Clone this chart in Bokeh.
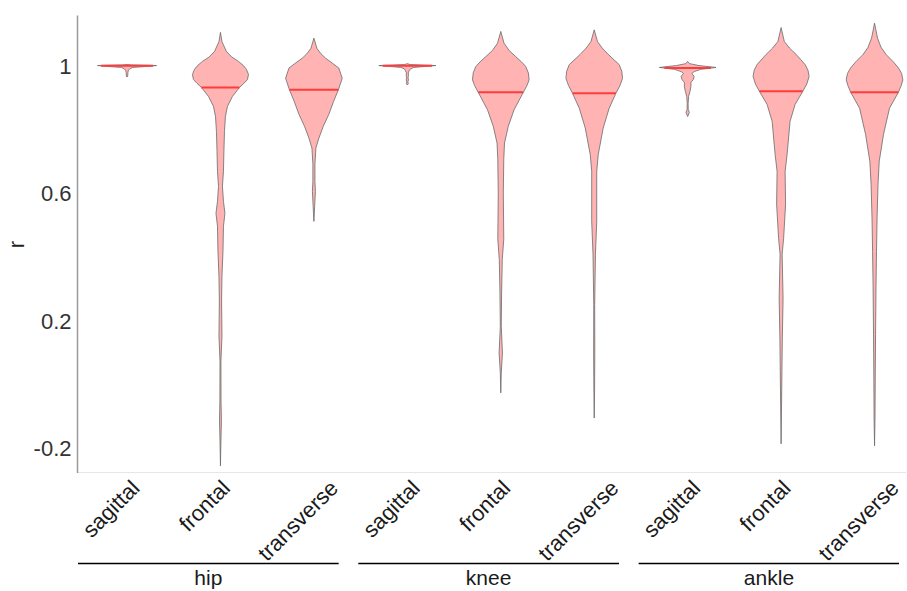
import numpy as np
from bokeh.plotting import figure
from bokeh.layouts import column
from bokeh.models import FixedTicker, Range1d
from bokeh.core.properties import value
from bokeh.embed import file_html
from bokeh.resources import INLINE

# ---------------- data ----------------
joints = ["hip", "knee", "ankle"]
planes = ["sagittal", "frontal", "transverse"]
y_ticks = [-0.2, 0.2, 0.6, 1.0]
y_tick_labels = ["-0.2", "0.2", "0.6", "1"]

# violin outlines: r value and half-width (in category units)
hip_sagittal_r = [1.006, 1.005, 1.003, 1.000, 0.997, 0.993, 0.988, 0.982, 0.976, 0.970, 0.967]
hip_sagittal_w = [0.0, 0.05, 0.316, 0.20, 0.06, 0.03, 0.015, 0.010, 0.008, 0.008, 0.0]

hip_frontal_r = [1.107, 1.078, 1.047, 1.030, 1.016, 1.003, 0.991, 0.975, 0.959, 0.947, 0.934,
                 0.906, 0.875, 0.843, 0.796, 0.734, 0.671, 0.624, 0.577, 0.539, 0.499, 0.420,
                 0.342, 0.264, 0.154, 0.076, -0.050, -0.112, -0.175, -0.253]
hip_frontal_w = [0.0, 0.016, 0.064, 0.120, 0.193, 0.245, 0.278, 0.300, 0.289, 0.250, 0.203,
                 0.128, 0.075, 0.053, 0.043, 0.037, 0.032, 0.021, 0.032, 0.048, 0.032, 0.027,
                 0.016, 0.012, 0.016, 0.005, 0.006, 0.010, 0.005, 0.0]

hip_transverse_r = [1.089, 1.057, 1.040, 1.026, 1.010, 0.995, 0.963, 0.927, 0.890, 0.850, 0.812,
                    0.775, 0.744, 0.693, 0.640, 0.608, 0.561, 0.514]
hip_transverse_w = [0.0, 0.032, 0.075, 0.125, 0.200, 0.267, 0.303, 0.262, 0.210, 0.160, 0.100,
                    0.053, 0.021, 0.011, 0.011, 0.016, 0.008, 0.0]

knee_sagittal_r = [1.009, 1.006, 1.004, 1.003, 1.000, 0.997, 0.993, 0.987, 0.980, 0.972, 0.965,
                   0.958, 0.952, 0.946, 0.942]
knee_sagittal_w = [0.0, 0.03, 0.20, 0.305, 0.18, 0.07, 0.035, 0.020, 0.010, 0.012, 0.008,
                   0.012, 0.006, 0.010, 0.0]

knee_frontal_r = [1.110, 1.073, 1.050, 1.031, 1.015, 1.000, 0.980, 0.958, 0.940, 0.919, 0.864,
                  0.812, 0.760, 0.709, 0.603, 0.458, 0.395, 0.289, 0.185, 0.101, 0.038, -0.024]
knee_frontal_w = [0.0, 0.035, 0.090, 0.160, 0.220, 0.267, 0.295, 0.303, 0.280, 0.241, 0.142,
                  0.080, 0.040, 0.032, 0.027, 0.032, 0.016, 0.009, 0.005, 0.018, 0.005, 0.0]

knee_transverse_r = [1.115, 1.078, 1.058, 1.038, 1.020, 1.006, 0.985, 0.963, 0.940, 0.916, 0.869,
                     0.807, 0.724, 0.671, 0.514, 0.411, 0.254, 0.098, -0.009, -0.103]
knee_transverse_w = [0.0, 0.035, 0.085, 0.150, 0.215, 0.267, 0.295, 0.303, 0.275, 0.232, 0.160,
                     0.096, 0.043, 0.027, 0.027, 0.013, 0.005, 0.006, 0.004, 0.0]

ankle_sagittal_r = [1.016, 1.009, 1.003, 0.997, 0.991, 0.984, 0.978, 0.969, 0.959, 0.950, 0.937,
                    0.922, 0.906, 0.884, 0.865, 0.856, 0.843]
ankle_sagittal_w = [0.0, 0.02, 0.12, 0.303, 0.14, 0.07, 0.045, 0.07, 0.06, 0.035, 0.035,
                    0.025, 0.010, 0.005, 0.006, 0.018, 0.0]

ankle_frontal_r = [1.122, 1.078, 1.058, 1.038, 1.020, 1.006, 0.988, 0.969, 0.945, 0.922, 0.881,
                   0.828, 0.724, 0.671, 0.568, 0.461, 0.411, 0.273, 0.148, 0.044, -0.059, -0.184]
ankle_frontal_w = [0.0, 0.035, 0.090, 0.160, 0.215, 0.257, 0.288, 0.300, 0.275, 0.232, 0.150,
                   0.096, 0.064, 0.043, 0.048, 0.027, 0.011, 0.021, 0.013, 0.009, 0.005, 0.0]

ankle_transverse_r = [1.136, 1.089, 1.060, 1.037, 1.015, 0.995, 0.978, 0.958, 0.940, 0.919, 0.869,
                      0.787, 0.702, 0.630, 0.524, 0.420, 0.317, 0.160, 0.004, -0.103, -0.190]
ankle_transverse_w = [0.0, 0.032, 0.070, 0.125, 0.200, 0.257, 0.290, 0.303, 0.285, 0.255, 0.160,
                      0.096, 0.050, 0.037, 0.027, 0.021, 0.016, 0.011, 0.007, 0.005, 0.0]

medians = [1.002, 0.934, 0.927, 1.002, 0.919, 0.916, 0.995, 0.922, 0.919]

profiles = [
    (hip_sagittal_r, hip_sagittal_w), (hip_frontal_r, hip_frontal_w),
    (hip_transverse_r, hip_transverse_w),
    (knee_sagittal_r, knee_sagittal_w), (knee_frontal_r, knee_frontal_w),
    (knee_transverse_r, knee_transverse_w),
    (ankle_sagittal_r, ankle_sagittal_w), (ankle_frontal_r, ankle_frontal_w),
    (ankle_transverse_r, ankle_transverse_w),
]

# ---------------- geometry / style ----------------
positions = [i + 1 for i in range(len(joints) * len(planes))]
tick_text = [pl for _ in joints for pl in planes]

FONT = value("Liberation Sans")
PX_PER_UNIT = 829 / (9.342 - 0.47)
x_range = Range1d(0.47, 9.342)
y_range = Range1d(-0.277, 1.160)

p = figure(frame_width=829, frame_height=458, x_range=x_range, y_range=y_range,
           output_backend="svg", toolbar_location=None,
           min_border_left=70, min_border_right=0, min_border_top=15, min_border_bottom=0)
p.xgrid.visible = False
p.ygrid.visible = False
p.outline_line_color = None
p.background_fill_color = "white"

xs, ys = [], []
med_x0, med_x1 = [], []
for c, (r, w), m in zip(positions, profiles, medians):
    r = np.asarray(r, dtype=float)
    w = np.asarray(w, dtype=float)
    xs.append(list(c - w) + list((c + w)[::-1]))
    ys.append(list(r) + list(r[::-1]))
    wm = float(np.interp(m, r[::-1], w[::-1]))
    med_x0.append(c - wm)
    med_x1.append(c + wm)

p.patches(xs, ys, fill_color="#FFB3B3", fill_alpha=1.0, line_color="#6A6A6A", line_width=0.8)
p.segment(x0=med_x0, y0=medians, x1=med_x1, y1=medians, line_color="#FF3B3B", line_width=2)

p.xaxis.ticker = FixedTicker(ticks=[])
p.xaxis.major_tick_line_color = None
p.xaxis.minor_tick_line_color = None
p.xaxis.major_tick_out = 0
p.xaxis.major_label_standoff = 0
p.xaxis.axis_line_color = "#9A9A9A"
p.xaxis.axis_line_width = 1.5

p.yaxis.ticker = FixedTicker(ticks=y_ticks)
p.yaxis.major_label_overrides = dict(zip(y_ticks, y_tick_labels))
p.yaxis.major_tick_line_color = None
p.yaxis.minor_tick_line_color = None
p.yaxis.major_tick_out = 0
p.yaxis.major_label_standoff = 6
p.yaxis.major_label_text_font = "Liberation Sans"
p.yaxis.major_label_text_font_size = "22px"
p.yaxis.major_label_text_color = "#333333"
p.yaxis.axis_line_color = "#9A9A9A"
p.yaxis.axis_line_width = 1.5
p.yaxis.axis_label = "r"
p.yaxis.axis_label_text_font = "Liberation Sans"
p.yaxis.axis_label_text_font_size = "22px"
p.yaxis.axis_label_text_font_style = "normal"
p.yaxis.axis_label_text_color = "#222222"
p.yaxis.axis_label_standoff = 2

# lower panel: rotated category labels, group lines and group names
p2 = figure(frame_width=829, frame_height=118, x_range=x_range, y_range=Range1d(0, 118),
            output_backend="svg", toolbar_location=None,
            x_axis_location=None, y_axis_location=None,
            min_border_left=70, min_border_right=0, min_border_top=0, min_border_bottom=0)
p2.xgrid.visible = False
p2.ygrid.visible = False
p2.outline_line_color = None

# approximate advance widths (em) of Liberation Sans, to place rotated labels by their box
ADV = {"a": .556, "c": .5, "e": .556, "f": .278, "g": .556, "i": .222, "k": .5, "l": .222,
       "n": .556, "o": .556, "r": .333, "s": .5, "t": .278, "v": .5}
LABEL_PX = 22
label_len = [sum(ADV.get(ch, .5) for ch in t) * LABEL_PX for t in tick_text]
label_top = 113          # px above the bottom of the lower panel where label boxes start
label_dx = -16 / PX_PER_UNIT
label_y = [label_top - 0.354 * (L + 16) for L in label_len]
p2.text(x=[q + label_dx for q in positions], y=label_y, text=tick_text,
        angle=np.pi / 4, text_align="center", text_baseline="middle",
        text_font=FONT, text_font_size=f"{LABEL_PX}px", text_color="#1A1A1A")

group_centers = [float(np.mean(positions[3 * g:3 * g + 3])) for g in range(len(joints))]
g_shift = -0.13
half_len = 1.395
p2.segment(x0=[g + g_shift - half_len for g in group_centers], y0=[28] * 3,
           x1=[g + g_shift + half_len for g in group_centers], y1=[28] * 3,
           line_color="black", line_width=1.5)
p2.text(x=[g + g_shift for g in group_centers], y=[26] * 3, text=joints,
        text_align="center", text_baseline="top",
        text_font=FONT, text_font_size="21px", text_color="#1A1A1A")

layout = column(p, p2, spacing=0)
open("out.html", "w").write(file_html(layout, INLINE))
